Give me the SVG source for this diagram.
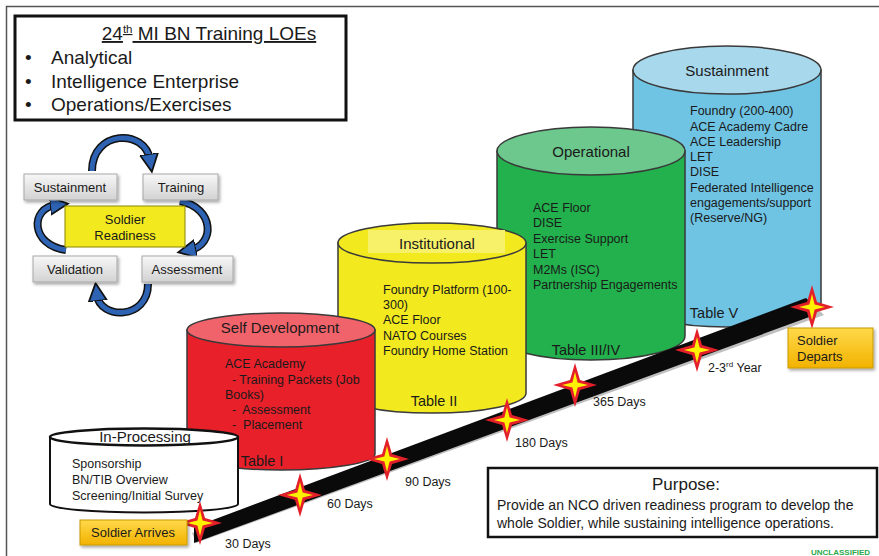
<svg xmlns="http://www.w3.org/2000/svg" width="879" height="556" viewBox="0 0 879 556">
<style>
text{font-family:"Liberation Sans",Arial,sans-serif;fill:#1a1a1a}
.t18{font-size:19px}
.ct{font-size:15px;text-anchor:middle}
.body{font-size:12.5px}
.tab{font-size:14.5px;text-anchor:middle}
.day{font-size:12.5px}
.cyc{font-size:13px;text-anchor:middle}
.gbox{fill:url(#gray);stroke:#a8a8a8;stroke-width:1;filter:url(#sh)}
.cyl{stroke:#3a3a3a;stroke-width:1.5}
.arrO{fill:none;stroke:#111;stroke-width:8}
.arrI{fill:none;stroke:#2e62b3;stroke-width:5}
</style>
<defs>
<linearGradient id="gray" x1="0" y1="0" x2="0" y2="1"><stop offset="0" stop-color="#f7f7f7"/><stop offset="1" stop-color="#d2d2d2"/></linearGradient>
<linearGradient id="gold" x1="0" y1="0" x2="0" y2="1"><stop offset="0" stop-color="#ffd94a"/><stop offset="1" stop-color="#f2b200"/></linearGradient>
<filter id="sh" x="-20%" y="-20%" width="140%" height="150%"><feDropShadow dx="1.5" dy="2" stdDeviation="1.5" flood-color="#000" flood-opacity="0.35"/></filter>
<marker id="ah" markerWidth="4" markerHeight="4" refX="1.2" refY="2" orient="auto" markerUnits="strokeWidth"><path d="M0,0.2 L3.6,2 L0,3.8 Z" fill="#2e62b3" stroke="#111" stroke-width="0.35"/></marker>
<g id="star"><path d="M0,-22 L5,-5 L22,0 L5,5 L0,22 L-5,5 L-22,0 L-5,-5 Z" fill="#e3202a"/><path d="M0,-13 L2.6,-2.6 L13,0 L2.6,2.6 L0,13 L-2.6,2.6 L-13,0 L-2.6,-2.6 Z" fill="#fff200"/></g>
</defs>
<rect x="0" y="0" width="879" height="556" fill="#fff"/>
<rect x="6.5" y="6.5" width="900" height="600" fill="none" stroke="#555" stroke-width="1.5"/>

<g id="loes">
<rect x="15" y="16" width="331" height="104" fill="#fff" stroke="#111" stroke-width="3"/>
<text class="t18" x="209" y="40" text-anchor="middle" text-decoration="underline">24<tspan font-size="11.5" dy="-7">th</tspan><tspan dy="7"> MI BN Training LOEs</tspan></text>
<text class="t18" x="25" y="64">•</text><text class="t18" x="51" y="64">Analytical</text>
<text class="t18" x="25" y="88">•</text><text class="t18" x="51" y="88">Intelligence Enterprise</text>
<text class="t18" x="25" y="111">•</text><text class="t18" x="51" y="111">Operations/Exercises</text>
</g>

<g id="cycle-arrows">
<path class="arrO" d="M92,171 C92,130 145,128 150,160"/>
<path class="arrI" d="M92,171 C92,130 145,128 150,160" marker-end="url(#ah)"/>
<path class="arrO" d="M180,201 C215,208 215,245 190,250"/>
<path class="arrI" d="M180,201 C215,208 215,245 190,250" marker-end="url(#ah)"/>
<path class="arrO" d="M148,284 C148,320 100,320 97,295"/>
<path class="arrI" d="M148,284 C148,320 100,320 97,295" marker-end="url(#ah)"/>
<path class="arrO" d="M66,250 C30,245 30,208 56,205"/>
<path class="arrI" d="M66,250 C30,245 30,208 56,205" marker-end="url(#ah)"/>
</g>
<g id="c-sustainment"><rect class="gbox" x="24" y="174" width="93" height="26"/><text class="cyc" x="70" y="192">Sustainment</text></g>
<g id="c-training"><rect class="gbox" x="143" y="174" width="75" height="26"/><text class="cyc" x="181" y="192">Training</text></g>
<g id="c-readiness"><rect x="65" y="206" width="120" height="41" fill="#f2ea1f" stroke="#8a8500" stroke-width="1"/><text class="cyc" x="125" y="224">Soldier</text><text class="cyc" x="125" y="240">Readiness</text></g>
<g id="c-validation"><rect class="gbox" x="33" y="256" width="84" height="26"/><text class="cyc" x="75" y="274">Validation</text></g>
<g id="c-assessment"><rect class="gbox" x="142" y="256" width="91" height="26"/><text class="cyc" x="187" y="274">Assessment</text></g>

<g id="cyl-sustainment">
<path class="cyl" fill="#6fc3e3" d="M633,70 L633,303 A94,24 0 0 0 821,303 L821,70 Z"/>
<ellipse class="cyl" fill="#a8d8ec" cx="727" cy="70" rx="94" ry="24"/>
<text class="ct" x="727" y="76">Sustainment</text>
<text class="body" x="690" y="115">Foundry (200-400)</text>
<text class="body" x="690" y="131">ACE Academy Cadre</text>
<text class="body" x="690" y="146">ACE Leadership</text>
<text class="body" x="690" y="161">LET</text>
<text class="body" x="690" y="176">DISE</text>
<text class="body" x="690" y="192">Federated Intelligence</text>
<text class="body" x="690" y="207">engagements/support</text>
<text class="body" x="690" y="222">(Reserve/NG)</text>
<text class="tab" x="714" y="318">Table V</text>
</g>

<g id="cyl-operational">
<path class="cyl" fill="#22b14c" d="M497,151 L497,336 A94,24 0 0 0 685,336 L685,151 Z"/>
<ellipse class="cyl" fill="#6cc88c" cx="591" cy="151" rx="94" ry="24"/>
<text class="ct" x="591" y="157">Operational</text>
<text class="body" x="533" y="212">ACE Floor</text>
<text class="body" x="533" y="227">DISE</text>
<text class="body" x="533" y="243">Exercise Support</text>
<text class="body" x="533" y="258">LET</text>
<text class="body" x="533" y="274">M2Ms (ISC)</text>
<text class="body" x="533" y="289">Partnership Engagements</text>
<text class="tab" x="586" y="355">Table III/IV</text>
</g>

<g id="cyl-institutional">
<path class="cyl" fill="#f2ea1f" d="M338,243 L338,393 A94,20 0 0 0 526,393 L526,243 Z"/>
<ellipse class="cyl" fill="#f2ea1f" cx="432" cy="243" rx="94" ry="20"/>
<rect x="368" y="230" width="137" height="23" fill="#f7f16a"/>
<text class="ct" x="437" y="249">Institutional</text>
<text class="body" x="383" y="294">Foundry Platform (100-</text>
<text class="body" x="383" y="309">300)</text>
<text class="body" x="383" y="324">ACE Floor</text>
<text class="body" x="383" y="340">NATO Courses</text>
<text class="body" x="383" y="355">Foundry Home Station</text>
<text class="tab" x="434" y="406">Table II</text>
</g>

<g id="cyl-self">
<path class="cyl" fill="#e8202a" d="M187,330 L187,454 A94,16 0 0 0 375,454 L375,330 Z"/>
<ellipse class="cyl" fill="#f0636b" cx="281" cy="330" rx="94" ry="17"/>
<text class="ct" x="280" y="333">Self Development</text>
<text class="body" x="225" y="368">ACE Academy</text>
<text class="body" x="225" y="384" xml:space="preserve">  - Training Packets (Job</text>
<text class="body" x="225" y="399">Books)</text>
<text class="body" x="225" y="414" xml:space="preserve">  -  Assessment</text>
<text class="body" x="225" y="429" xml:space="preserve">  -  Placement</text>
<text class="tab" x="262" y="466">Table I</text>
</g>

<g id="cyl-inprocessing">
<path fill="#fff" stroke="#111" stroke-width="2" d="M50,437 L50,504 A94,8.5 0 0 0 238,504 L238,437 Z"/>
<ellipse fill="#fff" stroke="#111" stroke-width="2.5" cx="144" cy="437" rx="94" ry="8.5"/>
<text class="ct" x="145" y="442">In-Processing</text>
<text class="body" x="72" y="468">Sponsorship</text>
<text class="body" x="72" y="484">BN/TIB Overview</text>
<text class="body" x="72" y="500">Screening/Initial Survey</text>
</g>

<g id="timeline">
<path d="M194,540 L190,530 L808,298 L822,312 Z" fill="#000" opacity="0.25" transform="translate(2,3)"/>
<path d="M194,543 L194,527 L806,298 L819,310 L812,316 Z" fill="#0a0a0a"/>
<use href="#star" x="200" y="523"/>
<use href="#star" x="300" y="495"/>
<use href="#star" x="387" y="459"/>
<use href="#star" x="507" y="420"/>
<use href="#star" x="575" y="385"/>
<use href="#star" x="697" y="350"/>
<use href="#star" x="812" y="307"/>
<text class="day" x="225" y="548">30 Days</text>
<text class="day" x="327" y="508">60 Days</text>
<text class="day" x="405" y="486">90 Days</text>
<text class="day" x="515" y="447">180 Days</text>
<text class="day" x="593" y="406">365 Days</text>
<text class="day" x="708" y="372">2-3<tspan font-size="8" dy="-5">rd</tspan><tspan dy="5"> Year</tspan></text>
</g>

<g id="arrives"><rect x="80" y="520" width="107" height="25" fill="url(#gold)" stroke="#c89a00" stroke-width="1" filter="url(#sh)"/><text x="133" y="537" font-size="13" text-anchor="middle">Soldier Arrives</text></g>
<g id="departs"><rect x="788" y="328" width="85" height="40" fill="url(#gold)" stroke="#c89a00" stroke-width="1" filter="url(#sh)"/><text x="797" y="345" font-size="13">Soldier</text><text x="797" y="361" font-size="13">Departs</text></g>

<g id="purpose">
<rect x="488" y="468" width="389" height="69" fill="#fff" stroke="#111" stroke-width="2.5"/>
<text x="686" y="490" font-size="17" text-anchor="middle">Purpose:</text>
<text x="497" y="510" font-size="14">Provide an NCO driven readiness program to develop the</text>
<text x="497" y="528" font-size="14">whole Soldier, while sustaining intelligence operations.</text>
</g>
<text x="811" y="555" font-size="8" font-weight="bold" style="fill:#2aa84a">UNCLASSIFIED</text>
</svg>
